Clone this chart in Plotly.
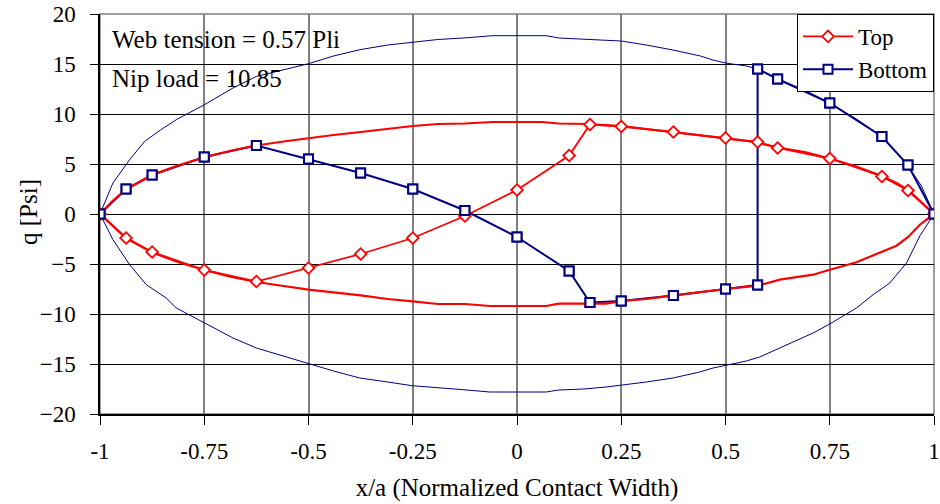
import plotly.graph_objects as go

# Marked data series
top_x = [-1, -0.9375, -0.875, -0.75, -0.625, -0.5, -0.375, -0.25, -0.125, 0,
         0.125, 0.175, 0.25, 0.375, 0.5, 0.577, 0.625, 0.75, 0.875, 0.9375, 1]
top_y = [0, -2.4, -3.8, -5.6, -6.75, -5.4, -4.0, -2.4, -0.2, 2.4,
         5.85, 8.95, 8.75, 8.2, 7.6, 7.2, 6.6, 5.55, 3.75, 2.35, 0]

bottom_x = [-1, -0.9375, -0.875, -0.75, -0.625, -0.5, -0.375, -0.25, -0.125, 0,
            0.125, 0.175, 0.25, 0.375, 0.5, 0.577, 0.577, 0.625, 0.75, 0.875, 0.9375, 1]
bottom_y = [0, 2.5, 3.9, 5.7, 6.85, 5.5, 4.1, 2.5, 0.35, -2.3,
            -5.7, -8.85, -8.7, -8.15, -7.5, -7.1, 14.5, 13.5, 11.1, 7.75, 4.9, 0]

# Inner (red) contact-pressure envelope, closed loop: upper half then lower half
red_env_x = [-1, -0.97, -0.9375, -0.9, -0.875, -0.81, -0.75, -0.69, -0.625, -0.56,
             -0.5, -0.44, -0.375, -0.31, -0.25, -0.19, -0.125, -0.06, 0, 0.06,
             0.1, 0.17, 0.25, 0.31, 0.375, 0.44, 0.5, 0.57, 0.625, 0.69,
             0.75, 0.81, 0.875, 0.91, 0.9375, 0.97, 1,
             0.966, 0.938, 0.91, 0.854, 0.814, 0.75, 0.71, 0.63, 0.578,
             0.5, 0.438, 0.377, 0.31, 0.253, 0.214, 0.15, 0.1, 0.07, 0,
             -0.065, -0.125, -0.19, -0.25, -0.31, -0.375, -0.44, -0.5, -0.56, -0.625,
             -0.69, -0.75, -0.81, -0.875, -0.9375, -0.97, -1]
red_env_y = [0, 1.3, 2.45, 3.3, 3.9, 4.9, 5.65, 6.3, 6.85, 7.25,
             7.6, 7.9, 8.2, 8.55, 8.8, 9.0, 9.05, 9.2, 9.2, 9.2,
             9.05, 9.0, 8.8, 8.5, 8.2, 7.9, 7.6, 7.2, 6.65, 6.2,
             5.55, 4.8, 3.8, 3.1, 2.4, 1.2, 0,
             -1.07, -2.3, -3.17, -4.17, -4.83, -5.57, -6.07, -6.57, -7.17,
             -7.5, -7.8, -8.13, -8.5, -8.7, -8.97, -8.97, -8.97, -9.2, -9.2,
             -9.2, -9.0, -9.0, -8.73, -8.5, -8.13, -7.85, -7.57, -7.2, -6.8,
             -6.25, -5.6, -4.85, -3.85, -2.4, -1.2, 0]

# Outer (blue) envelope, closed loop: upper half then lower half
blue_env_x = [-1, -0.985, -0.969, -0.929, -0.893, -0.855, -0.817, -0.751, -0.681, -0.625,
              -0.56, -0.5, -0.44, -0.377, -0.31, -0.252, -0.19, -0.129, -0.058, 0,
              0.07, 0.1, 0.2, 0.25, 0.31, 0.374, 0.44, 0.47, 0.5, 0.55,
              0.577, 0.624, 0.69, 0.748, 0.814, 0.874, 0.936, 0.97, 1,
              0.966, 0.934, 0.894, 0.854, 0.814, 0.75, 0.71, 0.63, 0.582, 0.55,
              0.502, 0.47, 0.438, 0.374, 0.31, 0.253, 0.214, 0.16, 0.1, 0.07, 0,
              -0.065, -0.129, -0.252, -0.31, -0.377, -0.44, -0.5, -0.56, -0.625, -0.681,
              -0.75, -0.817, -0.841, -0.889, -0.929, -0.969, -1]
blue_env_y = [0, 1.5, 3.1, 5.43, 7.26, 8.4, 9.43, 10.9, 12.6, 13.76,
              14.4, 15.03, 15.8, 16.43, 16.9, 17.2, 17.45, 17.6, 17.83, 17.83,
              17.83, 17.6, 17.4, 17.3, 16.9, 16.4, 15.8, 15.4, 15.1, 14.8,
              14.5, 13.5, 12.4, 11.1, 9.5, 7.76, 4.93, 2.8, 0,
              -2.2, -4.9, -6.9, -8.07, -9.4, -11.0, -11.9, -13.4, -14.3, -14.7,
              -15.1, -15.4, -15.8, -16.4, -16.8, -17.1, -17.3, -17.5, -17.6, -17.8, -17.8,
              -17.8, -17.57, -17.17, -16.8, -16.4, -15.7, -14.97, -14.2, -13.4, -12.4,
              -10.9, -9.4, -8.4, -7.07, -5.07, -2.57, 0]

x_ticks = [-1, -0.75, -0.5, -0.25, 0, 0.25, 0.5, 0.75, 1]
x_tick_text = ["-1", "-0.75", "-0.5", "-0.25", "0", "0.25", "0.5", "0.75", "1"]
y_ticks = [-20, -15, -10, -5, 0, 5, 10, 15, 20]

RED = "#FF0000"
NAVY = "#000080"
FONT = "Liberation Serif"

fig = go.Figure()

fig.add_trace(go.Scatter(x=blue_env_x, y=blue_env_y, mode="lines",
                         line=dict(color=NAVY, width=1), showlegend=False,
                         hoverinfo="skip"))
fig.add_trace(go.Scatter(x=bottom_x, y=bottom_y, mode="lines+markers", name="Bottom",
                         line=dict(color=NAVY, width=2),
                         marker=dict(symbol="square", size=9, color="white",
                                     line=dict(color=NAVY, width=2)),
                         legendrank=2))
fig.add_trace(go.Scatter(x=red_env_x, y=red_env_y, mode="lines",
                         line=dict(color=RED, width=2.2), showlegend=False,
                         hoverinfo="skip"))
fig.add_trace(go.Scatter(x=top_x, y=top_y, mode="lines+markers", name="Top",
                         line=dict(color=RED, width=1.8),
                         marker=dict(symbol="diamond", size=9, color="white",
                                     line=dict(color=RED, width=1.8)),
                         legendrank=1))
# Bottom markers again so they sit above the red curves
fig.add_trace(go.Scatter(x=bottom_x, y=bottom_y, mode="markers", showlegend=False,
                         marker=dict(symbol="square", size=9, color="white",
                                     line=dict(color=NAVY, width=2))))

fig.add_annotation(text="Web tension = 0.57 Pli", xref="paper", yref="paper",
                   x=0.012, y=0.935, xanchor="left", yanchor="middle",
                   showarrow=False, font=dict(family=FONT, size=25, color="black"))
fig.add_annotation(text="Nip load = 10.85", xref="paper", yref="paper",
                   x=0.012, y=0.84, xanchor="left", yanchor="middle",
                   showarrow=False, font=dict(family=FONT, size=25, color="black"))
# Vertical axis title
fig.add_annotation(text="q [Psi]", xref="paper", yref="paper",
                   x=-0.0863, y=0.505, xanchor="center", yanchor="middle",
                   textangle=-90, showarrow=False,
                   font=dict(family=FONT, size=25, color="black"))

# Gray frame around the plotting area
fig.add_shape(type="rect", xref="paper", yref="paper", x0=0, y0=0, x1=1, y1=1,
              line=dict(color="#808080", width=1.5), layer="between")

fig.update_layout(
    width=940, height=504,
    margin=dict(l=100, r=6, t=14, b=90),
    paper_bgcolor="white", plot_bgcolor="white",
    font=dict(family=FONT, color="black"),
    showlegend=True,
    legend=dict(x=1, y=1, xanchor="right", yanchor="top",
                bgcolor="white", bordercolor="black", borderwidth=1,
                font=dict(family=FONT, size=23, color="black"),
                tracegroupgap=0, itemwidth=50),
    xaxis=dict(range=[-1, 1], tickvals=x_ticks, ticktext=x_tick_text,
               automargin=False,
               showgrid=True, gridcolor="#808080", gridwidth=1.5, zeroline=False,
               showline=True, linecolor="black", linewidth=1.5,
               ticks="outside", ticklen=9, tickcolor="black",
               tickfont=dict(family=FONT, size=23), ticklabelstandoff=7,
               title=dict(text="x/a (Normalized Contact Width)",
                          font=dict(family=FONT, size=25), standoff=15)),
    yaxis=dict(range=[-20, 20], tickvals=y_ticks,
               automargin=False,
               showgrid=True, gridcolor="black", gridwidth=1, zeroline=False,
               showline=True, linecolor="black", linewidth=1.5,
               ticks="outside", ticklen=8, tickcolor="black",
               tickfont=dict(family=FONT, size=23), ticklabelstandoff=10),
)

fig.write_html("out.html")
